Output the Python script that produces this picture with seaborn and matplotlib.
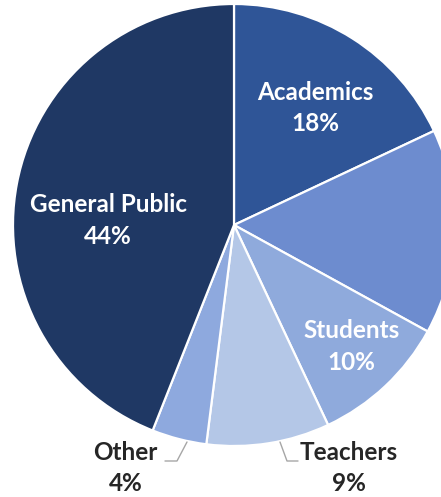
import matplotlib
matplotlib.use("Agg")
import matplotlib.pyplot as plt
import seaborn as sns

sns.set_style("white")
plt.rcParams["font.family"] = ["Lato", "DejaVu Sans"]

# Audience breakdown, clockwise from 12 o'clock
categories = ["Academics", "", "Students", "Teachers", "Other", "General Public"]
shares = [18, 15, 10, 9, 4, 44]
colors = sns.color_palette(["#2F5597", "#6D8CCF", "#8FAADC", "#B4C7E7", "#8EA9DE", "#1F3864"])

W, H = 441, 497
cx, cy, R = 234, 225, 221  # pie centre and radius in pixels

fig = plt.figure(figsize=(W / 100, H / 100), dpi=100)
ax = fig.add_axes([0, 0, 1, 1])
wedges, _ = ax.pie(
    shares,
    colors=colors,
    startangle=90,
    counterclock=False,
    radius=1.0,
    wedgeprops=dict(edgecolor="white", linewidth=1.6),
)
ax.set_aspect("auto")
ax.set_xlim(-cx / R, (W - cx) / R)
ax.set_ylim(-(H - cy) / R, cy / R)
ax.axis("off")

# label anchors (data units) and text colour
inside = {
    "Academics": (0.37, 0.53),
    "General Public": (-0.57, 0.02),
    "Students": (0.53, -0.55),
}
outside = {
    "Other": (-0.49, -1.10),
    "Teachers": (0.52, -1.10),
}

for name, value in zip(categories, shares):
    if not name:
        continue
    label = f"{name}\n{value}%"
    if name in inside:
        x, y = inside[name]
        color = "white"
    else:
        x, y = outside[name]
        color = "#262626"
    ax.text(x, y, label, ha="center", va="center", color=color,
            fontsize=17.5, fontweight="bold", linespacing=1.45)

# leader lines for the two outside labels
def px(x, y):
    return (x - cx) / R, (cy - y) / R

for pts in ([(187, 442), (177, 461), (165, 461)],
            [(280, 442), (287, 461), (298, 461)]):
    xs, ys = zip(*[px(*p) for p in pts])
    ax.plot(xs, ys, color="#A6A6A6", linewidth=1.0)

fig.savefig("out.png", dpi=100)
